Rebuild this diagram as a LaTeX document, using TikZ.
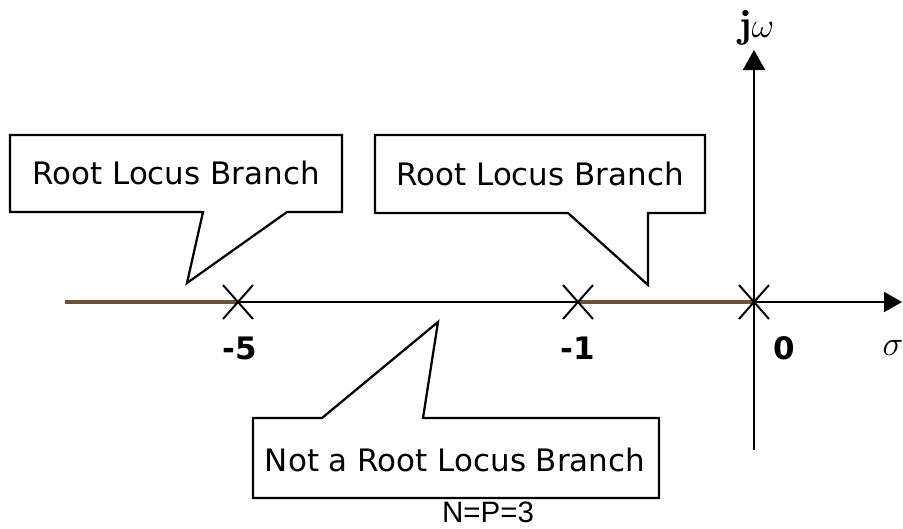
\documentclass[tikz,border=0pt]{standalone}
\usepackage{fontspec}
\newfontfamily\boxfont{DejaVu Sans}
\newfontfamily\notefont{Liberation Sans}
\usetikzlibrary{arrows, arrows.meta}
\definecolor{locus}{RGB}{107,82,58}

\begin{document}
\begin{tikzpicture}[x=0.025cm, y=-0.025cm, line width=1.4pt,
    branch/.style={draw=locus, line width=2.8pt},
    callout/.style={draw, fill=white, line width=1.6pt, line join=miter},
    boxtext/.style={font=\boxfont\fontsize{22}{26}\selectfont},
    polelabel/.style={font=\boxfont\bfseries\fontsize{22}{26}\selectfont}]
    \useasboundingbox (0,0) rectangle (903,528);
    % axes
    \draw [black, -{Triangle[length=0.45cm, width=0.5cm]}] (65,302)--(902,302);
    \draw [black, -{Triangle[length=0.5cm, width=0.55cm]}] (754,450)--(754,50);
    \node (jw) at (757,28) {\fontsize{28}{32}\selectfont$\mathbf{j}\omega$};
    \node (sigma) at (893,348) {\fontsize{27}{30}\selectfont$\sigma$};
    % branches on the real axis
    \draw [branch] (65,302)--(238,302);
    \draw [branch] (578,302)--(754,302);
    % poles
    \foreach \x in {238,578,754}
      \draw [black] (\x-15,285)--(\x+15,319) (\x-15,319)--(\x+15,285);
    \node [polelabel] (p5) at (240,348) {-5};
    \node [polelabel] (p1) at (578,348) {-1};
    \node [polelabel] (p0) at (784,348) {0};
    % callouts
    \draw [callout] (10,135)--(342,135)--(342,212)--(287,212)--(187,283)--(203,212)--(10,212)--cycle;
    \node [boxtext] (lbranch) at (176,173) {Root Locus Branch};
    \draw [callout] (375,135)--(705,135)--(705,213)--(648,213)--(648,285)--(568,213)--(375,213)--cycle;
    \node [boxtext] (rbranch) at (540,174) {Root Locus Branch};
    \draw [callout] (253,418)--(322,418)--(438,322)--(423,418)--(659,418)--(659,498)--(253,498)--cycle;
    \node [boxtext] (nobranch) at (455,460) {Not a Root Locus Branch};
    \node [font=\notefont\fontsize{21}{24}\selectfont, inner sep=0pt, anchor=base] (np) at (488,522) {N=P=3};
  \end{tikzpicture}
\end{document}
